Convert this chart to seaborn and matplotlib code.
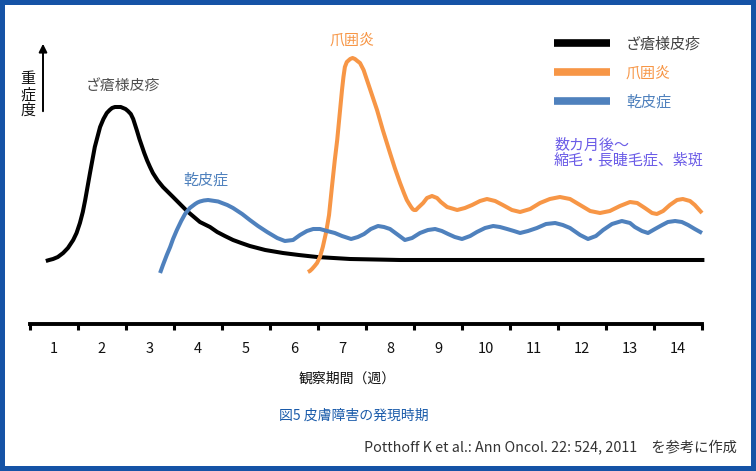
import matplotlib
matplotlib.use("Agg")
import matplotlib.pyplot as plt
from matplotlib.patches import Rectangle
import numpy as np
import seaborn as sns

# 観察期間（週）と重症度（任意単位）: 図から読み取った値
acne_weeks = [0.83, 0.90, 0.98, 1.08, 1.19, 1.29, 1.40, 1.47, 1.54, 1.60, 1.65, 1.75,
              1.85, 1.96, 2.03, 2.10, 2.16, 2.21, 2.27, 2.33, 2.39, 2.44, 2.49, 2.54,
              2.60, 2.65, 2.69, 2.73, 2.78, 2.83, 2.88, 2.94, 3.00, 3.06, 3.16, 3.27,
              3.48, 3.77, 4.04, 4.25, 4.40, 4.56, 4.73, 4.90, 5.08, 5.40, 5.77, 6.10,
              6.48, 7.17, 8.21, 14.55]
acne_sev = [-1, 0, 1, 3, 7, 12, 20, 27, 37, 48, 60, 87,
            113, 133, 141, 147, 150, 152, 153, 153, 153, 152, 151, 149,
            146, 141, 135, 129, 121, 114, 107, 99.5, 93, 87, 79.5, 73,
            63, 49, 38, 33, 28, 24, 20, 17, 14, 10, 7, 5,
            3, 1, 0, 0]

paronychia_weeks = [6.29, 6.33, 6.375, 6.43, 6.48, 6.54, 6.60, 6.67, 6.73, 6.79, 6.85, 6.90,
                    6.96, 7.00, 7.03, 7.06, 7.10, 7.17, 7.22, 7.27, 7.32, 7.375, 7.45, 7.52,
                    7.625, 7.73, 7.85, 8.00, 8.10, 8.21, 8.29, 8.35, 8.40, 8.44, 8.47, 8.50,
                    8.54, 8.58, 8.69, 8.77, 8.875, 8.98, 9.06, 9.19, 9.40, 9.56,
                    9.71, 9.875, 10.02, 10.19, 10.35, 10.54, 10.71, 10.92, 11.125, 11.33, 11.54,
                    11.75, 11.96, 12.17, 12.375, 12.58, 12.79, 13.00, 13.15, 13.31, 13.46, 13.56,
                    13.69, 13.83, 13.98, 14.10, 14.25, 14.35, 14.50]
paronychia_sev = [-12, -11, -9, -6, -3, 3, 13, 28, 45, 73, 100, 120,
                  150, 170, 183, 193, 198, 201, 202, 201, 199, 197, 190, 180,
                  165, 150, 130, 107, 92, 77, 67, 60, 56, 53, 51, 50,
                  50, 52, 57, 62, 64, 62, 58, 53, 50, 52,
                  55, 59, 61, 59, 55, 50, 48, 51, 57, 61, 63,
                  61, 55, 49, 47, 49, 54, 58, 57, 52, 47, 46,
                  49, 55, 60, 61, 59, 55, 47]

xerosis_weeks = [3.21, 3.27, 3.35, 3.42, 3.48, 3.56, 3.65, 3.73, 3.83, 3.94, 3.99, 4.04,
                 4.12, 4.21, 4.28, 4.35, 4.42, 4.50, 4.61, 4.73, 4.92, 5.08, 5.25, 5.44,
                 5.65, 5.81, 5.98, 6.125, 6.27, 6.40, 6.54, 6.69, 6.85, 7.00, 7.19, 7.33,
                 7.46, 7.60, 7.75, 7.875, 8.00, 8.17, 8.31, 8.46, 8.625, 8.79, 8.94, 9.08,
                 9.21, 9.35, 9.50, 9.67, 9.81, 9.98, 10.15, 10.29, 10.44, 10.58, 10.71,
                 10.875, 11.06, 11.25, 11.44, 11.60, 11.75, 11.96, 12.125, 12.29, 12.44,
                 12.625, 12.83, 13.00, 13.10, 13.25, 13.375, 13.52, 13.67, 13.79, 13.94,
                 14.08, 14.21, 14.35, 14.50]
xerosis_sev = [-13, -5, 5, 13, 21, 30, 39, 46, 52, 56, 57.5, 58.5,
               59.5, 60, 59.5, 59, 58.5, 57, 55, 52, 46, 40, 34, 28,
               22, 19, 20, 25, 29, 31, 31, 29, 27, 24, 21, 23,
               26, 31, 34, 33, 31, 25, 20, 22, 27, 30, 31, 29,
               26, 23, 21, 24, 28, 32, 34, 33, 31, 29, 27,
               29, 32, 36, 37, 35, 32, 25, 21, 24, 30,
               36, 39, 37, 33, 29, 27, 31, 35, 38, 39,
               38, 35, 31, 27]

series_names = ["ざ瘡様皮疹", "爪囲炎", "乾皮症"]
series_colors = ["#000000", "#F79646", "#4F81BD"]
week_labels = [str(w) for w in range(1, 15)]

W, H = 756, 471


def fx(px):
    return px / W


def fy(py):
    return 1 - py / H


sns.set_theme(style="white")
plt.rcParams["font.family"] = ["Noto Sans CJK JP", "DejaVu Sans"]

fig = plt.figure(figsize=(W / 100, H / 100), dpi=100)
fig.patch.set_facecolor("#1553A6")
fig.patches.append(Rectangle((fx(5), fy(466)), fx(746), 461 / H, transform=fig.transFigure,
                             facecolor="white", edgecolor="none", zorder=-10))

ax = fig.add_axes([fx(30), fy(323.5), fx(672), 300 / H])
ax.set_facecolor("none")

curves = [(acne_weeks, acne_sev), (paronychia_weeks, paronychia_sev), (xerosis_weeks, xerosis_sev)]
for (xs, ys), name, color in zip(curves, series_names, series_colors):
    sns.lineplot(x=xs, y=ys, ax=ax, color=color, linewidth=2.9, sort=False, estimator=None,
                 label=name, clip_on=False, solid_joinstyle="round", solid_capstyle="butt")

ax.set_xlim(0.5, 14.5)
ax.set_ylim(-63.5, 236.5)
for side in ["left", "top", "right"]:
    ax.spines[side].set_visible(False)
ax.spines["bottom"].set_linewidth(2.8)
ax.spines["bottom"].set_color("black")
ax.set_yticks([])
ax.set_xticks(np.arange(0.5, 15, 1))
ax.set_xticklabels([])
ax.set_xticks(np.arange(1, 15), minor=True)
ax.set_xticklabels(week_labels, minor=True, fontsize=10.5, color="#111111")
ax.tick_params(axis="x", which="major", direction="out", length=4, width=2.2, color="black", bottom=True)
ax.tick_params(axis="x", which="minor", length=0, pad=13)

# 凡例
leg = ax.legend(loc="upper left", bbox_to_anchor=(fx(554), fy(37)), bbox_transform=fig.transFigure,
                frameon=False, fontsize=10.8, handlelength=3.7, handletextpad=1.1,
                labelspacing=0.98, borderpad=0, borderaxespad=0)
for line in leg.get_lines():
    line.set_linewidth(5.5)
    line.set_solid_capstyle("butt")
for text, color in zip(leg.get_texts(), ["#404040", "#F79646", "#4F81BD"]):
    text.set_color(color)

# 縦軸の矢印とラベル
ax.annotate("", xy=(fx(43), fy(41)), xytext=(fx(43), fy(114)), xycoords="figure fraction",
            textcoords="figure fraction",
            arrowprops=dict(arrowstyle="-|>", color="black", lw=1.4, mutation_scale=12))
fig.text(fx(28), fy(95), "重\n症\n度", ha="center", va="center", fontsize=10.8,
         linespacing=1.12, color="#111111")

# 曲線ラベル
fig.text(fx(123), fy(87), "ざ瘡様皮疹", ha="center", va="center", fontsize=10.7, color="#505050")
fig.text(fx(206), fy(180), "乾皮症", ha="center", va="center", fontsize=10.8, color="#4F81BD")
fig.text(fx(352), fy(40), "爪囲炎", ha="center", va="center", fontsize=10.8, color="#F79646")
fig.text(fx(554), fy(153), "数カ月後～\n縮毛・長睫毛症、紫斑", ha="left", va="center",
         fontsize=10.8, linespacing=1.05, color="#6B5CE7")

# 軸タイトル・図題・出典
fig.text(fx(347), fy(379), "観察期間（週）", ha="center", va="center", fontsize=10, color="#111111")
fig.text(fx(354), fy(416), "図5 皮膚障害の発現時期", ha="center", va="center", fontsize=10,
         color="#1A5BAA")
fig.text(fx(737), fy(448), "Potthoff K et al.: Ann Oncol. 22: 524, 2011　を参考に作成",
         ha="right", va="center", fontsize=10.3, color="#333333")

fig.savefig("out.png", dpi=100)
